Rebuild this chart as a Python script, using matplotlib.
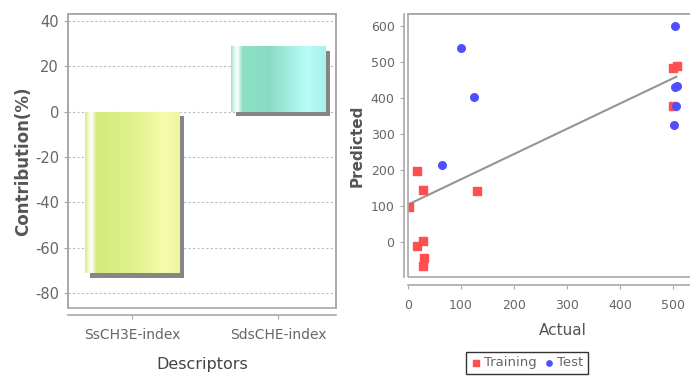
import numpy as np
import matplotlib
matplotlib.use("Agg")
import matplotlib.pyplot as plt
import matplotlib.patheffects as pe
from matplotlib.colors import LinearSegmentedColormap
from matplotlib.patches import Rectangle

plt.rcParams["axes.unicode_minus"] = False

# === Data: descriptor contributions ===
descriptors = ["SsCH3E-index", "SdsCHE-index"]
contribution = [-71, 29]

# === Data: actual vs predicted ===
train_actual = [3, 17, 28, 17, 28, 31, 29, 130, 499, 508, 500]
train_pred = [97, 196, 143, -11, 3, -46, -67, 141, 483, 489, 377]
test_actual = [101, 125, 65, 503, 508, 503, 506, 502]
test_pred = [537, 402, 213, 600, 433, 429, 377, 324]
fit_x = [3, 506]
fit_y = [105, 458]

gray = "#a8a8a8"
txt = "#666666"

fig = plt.figure(figsize=(6.9, 3.79), dpi=100)

# === Left: contribution bars ===
ax1 = fig.add_axes([0.0986, 0.187, 0.389, 0.776])
ax1.set_yticks(np.arange(-80, 41, 20))
ax1.grid(axis="y", linestyle=(0, (2, 2)), color="#bbbbbb", lw=0.8)
ax1.set_axisbelow(True)

cmaps = [
    LinearSegmentedColormap.from_list("g", [(0, "#d6ee86"), (0.04, "#f4fbd8"), (0.07, "#ffffff"),
                                              (0.12, "#d2ea7c"), (0.5, "#e0f18e"), (0.85, "#f7fbaa"),
                                              (1, "#eef5a0")]),
    LinearSegmentedColormap.from_list("c", [(0, "#9ee6cc"), (0.04, "#e4fbf4"), (0.07, "#ffffff"),
                                              (0.12, "#8ee0c4"), (0.4, "#88dcc6"), (0.8, "#b8fcf6"),
                                              (1, "#a8f2ec")]),
]
bars = ax1.bar(range(len(descriptors)), contribution, width=0.65, color="#dddddd", zorder=2,
               path_effects=[pe.SimplePatchShadow(offset=(3.5, -3.5), shadow_rgbFace="#808080", alpha=0.95),
                             pe.Normal()])
grad = np.linspace(0, 1, 256).reshape(1, -1)
for b, cm in zip(bars, cmaps):
    x0, y0, w, h = b.get_x(), b.get_y(), b.get_width(), b.get_height()
    im = ax1.imshow(grad, cmap=cm, aspect="auto", zorder=3,
                    extent=(x0, x0 + w, min(y0, y0 + h), max(y0, y0 + h)))
    im.set_clip_path(b)
ax1.set_xlim(-0.44, 1.40)
ax1.set_ylim(-86.6, 43)

ax1.set_xticks(range(len(descriptors)))
ax1.set_xticklabels(descriptors)
for s in ax1.spines.values():
    s.set_color(gray)
    s.set_linewidth(1.2)
ax1.spines["bottom"].set_position(("outward", 5))
ax1.add_patch(Rectangle((0, 0), 1, 1, transform=ax1.transAxes, fill=False, ec=gray, lw=1.2,
                        clip_on=False, zorder=5))
ax1.tick_params(colors=gray, labelcolor=txt, labelsize=10.5, length=3)
ax1.tick_params(axis="x", labelsize=10, pad=6)
ax1.set_ylabel("Contribution(%)", fontsize=12, fontweight="bold", color="#555555", labelpad=2)
ax1.set_xlabel("Descriptors", fontsize=11.5, color="#444444", labelpad=11)

# === Right: actual vs predicted ===
ax2 = fig.add_axes([0.591, 0.269, 0.45, 0.694])
ax2.plot(fit_x, fit_y, color="#959595", lw=1.5, zorder=2)
ax2.scatter(train_actual, train_pred, marker="s", s=40, color="#ff4f4f", zorder=3, label="Training")
ax2.scatter(test_actual, test_pred, marker="o", s=30, color="#4f4fff", zorder=3, label="Test")
ax2.set_xlim(0, 585)
ax2.set_ylim(-98, 632)
ax2.set_xticks(np.arange(0, 501, 100))
ax2.set_yticks(np.arange(0, 601, 100))
for s in ax2.spines.values():
    s.set_color(gray)
    s.set_linewidth(1.2)
ax2.spines["bottom"].set_position(("outward", 6))
ax2.spines["left"].set_position(("outward", 3))
ax2.add_patch(Rectangle((0, 0), 1, 1, transform=ax2.transAxes, fill=False, ec=gray, lw=1.2,
                        clip_on=False, zorder=5))
ax2.tick_params(colors=gray, labelcolor=txt, labelsize=9, length=3)
ax2.tick_params(axis="x", pad=7)
ax2.set_ylabel("Predicted", fontsize=11, fontweight="bold", color="#555555", labelpad=4)
ax2.set_xlabel("Actual", fontsize=11, color="#555555", labelpad=8)

leg = fig.legend(loc="upper center", bbox_to_anchor=(527 / 690, 1 - 349 / 379), ncol=2,
                 fancybox=False, edgecolor="#333333", framealpha=1, borderpad=0.35,
                 handletextpad=0.2, columnspacing=0.6, handlelength=0.8, markerscale=0.7,
                 borderaxespad=0.2, prop={"size": 9.5})
for t in leg.get_texts():
    t.set_color(txt)

fig.savefig("out.png", dpi=100)
